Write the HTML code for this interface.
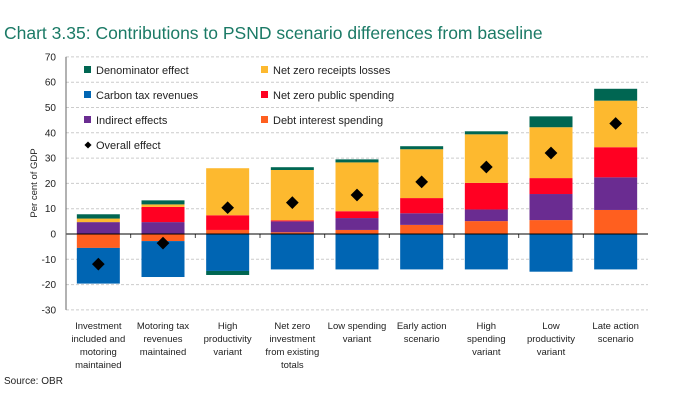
<!DOCTYPE html>
<html><head><meta charset="utf-8"><style>
body{margin:0;background:#fff;width:681px;height:401px;overflow:hidden;font-family:"Liberation Sans",sans-serif}
</style></head><body>
<svg id="c" width="681" height="401" xmlns="http://www.w3.org/2000/svg">
<text x="4" y="39" font-size="17.5" fill="#1b7a66">Chart 3.35: Contributions to PSND scenario differences from baseline</text>
<text transform="translate(37,183) rotate(-90)" text-anchor="middle" font-size="9.5" fill="#222">Per cent of GDP</text>
<text x="4" y="384" font-size="10" fill="#222">Source: OBR</text>
<g id="grid"></g><g id="bars"></g><g id="axes"></g><g id="legend"></g>
</svg>
<script>
const categories=[["Investment","included and","motoring","maintained"],["Motoring tax","revenues","maintained"],["High","productivity","variant"],["Net zero","investment","from existing","totals"],["Low spending","variant"],["Early action","scenario"],["High","spending","variant"],["Low","productivity","variant"],["Late action","scenario"]];
const debtInterest=[-5.5,-2.8,1.6,0.7,1.6,3.6,5.1,5.5,9.5];
const indirect=[4.7,4.7,0,4.3,4.7,4.6,4.6,10.3,12.9];
const netZeroSpending=[0,6.0,5.8,0.4,2.7,6.0,10.5,6.3,11.9];
const receiptsLosses=[1.4,1.0,18.6,19.9,19.3,19.3,19.2,20.1,18.4];
const denominator=[1.7,1.6,-1.6,1.1,1.2,1.2,1.2,4.3,4.7];
const carbonTax=[-14.1,-14.2,-14.6,-14.0,-14.0,-14.0,-14.0,-14.9,-14.0];
const overall=[-11.9,-3.6,10.4,12.4,15.4,20.6,26.5,32.0,43.7];
const yTicks=[70,60,50,40,30,20,10,0,-10,-20,-30];
const series=[["Denominator effect","#006652",denominator],["Net zero receipts losses","#fdb92f",receiptsLosses],["Carbon tax revenues","#0065b3",carbonTax],["Net zero public spending","#ff0022",netZeroSpending],["Indirect effects","#6a2c91",indirect],["Debt interest spending","#ff5f1f",debtInterest]];
const NS="http://www.w3.org/2000/svg";
const X0=66,X1=648,Y0=234,PU=2.53;
const y=v=>Y0-v*PU;
const bw=(X1-X0)/categories.length;
const xc=i=>X0+bw*(i+0.5);
function mk(p,t,a,txt){const e=document.createElementNS(NS,t);for(const k in a)e.setAttribute(k,a[k]);if(txt!=null)e.textContent=txt;document.getElementById(p).appendChild(e);return e;}
yTicks.forEach(t=>{
 if(t!==0){const g=mk("grid","line",{x1:X0,x2:X1,y1:y(t),y2:y(t),stroke:"#ccc","stroke-dasharray":"3,2","stroke-width":1});
 
 }
 const l=mk("axes","text",{x:56,y:y(t)+3.5,"text-anchor":"end","font-size":10,fill:"#222"},String(t));
 
 
});
const order=[[debtInterest,"#ff5f1f","debt-interest"],[indirect,"#6a2c91","indirect"],[netZeroSpending,"#ff0022","net-zero-spending"],[receiptsLosses,"#fdb92f","receipts-losses"],[carbonTax,"#0065b3","carbon-tax"],[denominator,"#006652","denominator"]];
categories.forEach((c,i)=>{
 let pos=0,neg=0;const w=43,x=xc(i)-w/2;
 order.forEach(([arr,col,nm])=>{
  const v=arr[i];if(!v)return;let a,b;
  if(v>0){a=pos;b=pos+v;pos=b;}else{a=neg;b=neg+v;neg=b;}
  const r=mk("bars","rect",{x:x,width:w,y:Math.min(y(a),y(b)),height:Math.abs(y(a)-y(b)),fill:col});
  
  
 });
 const d=mk("bars","rect",{x:xc(i)-4.5,y:y(overall[i])-4.5,width:9,height:9,fill:"#000",transform:`rotate(45 ${xc(i)} ${y(overall[i])})`});
 
 
 c.forEach((ln,k)=>{const t=mk("axes","text",{x:xc(i),y:329+k*13,"text-anchor":"middle","font-size":9.5,fill:"#222"},ln);
  
  });
 if(i>0){const tk=mk("axes","line",{x1:X0+bw*i,x2:X0+bw*i,y1:Y0,y2:Y0+4,stroke:"#444"});
  
  }
});
const za=mk("axes","line",{x1:X0,x2:X1,y1:Y0,y2:Y0,stroke:"#000","stroke-width":1});


const ya=mk("axes","line",{x1:X0,x2:X0,y1:y(70),y2:y(-30),stroke:"#666","stroke-width":1});


series.forEach(([nm,col],k)=>{
 const cx=k%2?265:88,cy=70+Math.floor(k/2)*25;
 const s=mk("legend","rect",{x:cx-4,y:cy-4,width:7,height:7,fill:col});
 
 
 const t=mk("legend","text",{x:cx+8,y:cy+4,"font-size":11,fill:"#222"},nm);
 
 
});
const ld=mk("legend","rect",{x:85.5,y:142.5,width:5,height:5,fill:"#000",transform:"rotate(45 88 145)"});


const lt=mk("legend","text",{x:96,y:149,"font-size":11,fill:"#222"},"Overall effect");


</script>
</body></html>
